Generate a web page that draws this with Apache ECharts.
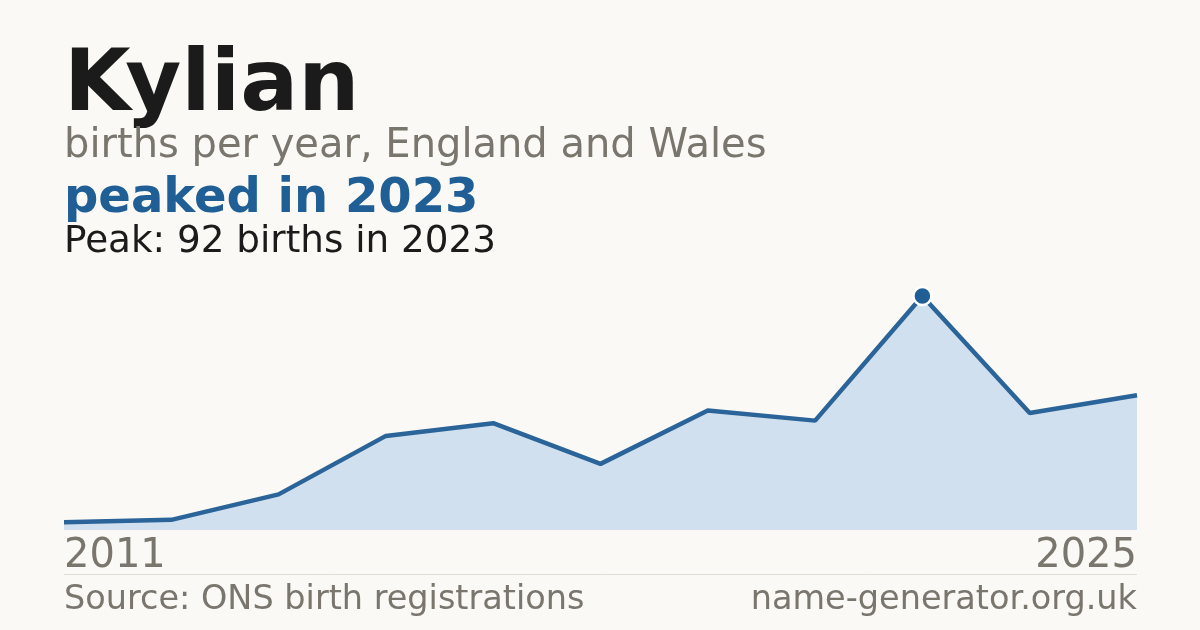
<!DOCTYPE html>
<html>
<head>
<meta charset="utf-8">
<title>Kylian</title>
<script src="https://cdn.jsdelivr.net/npm/echarts@6/dist/echarts.min.js"></script>
<style>
	html, body { margin: 0; padding: 0; background: #faf9f5; }
	#nameChart { width: 1200px; height: 630px; }
</style>
</head>
<body>
<div id="nameChart"></div>
<script>
// 数据部分
const years = ['2011', '2016', '2017', '2018', '2019', '2020', '2021', '2022', '2023', '2024', '2025'];
const births = [3, 4, 14, 37, 42, 26, 47, 43, 92, 46, 53];
const peakIndex = 8;

const font = 'DejaVu Sans';
const ink = '#1b1b1b';
const grey = '#7a756d';
const blue = '#205f95';

let nameChart = echarts.init(document.getElementById('nameChart'));

// 标题、副标题、来源都用 title 组件
nameChart.setOption({
	backgroundColor: '#faf9f5',
	animation: false,
	title: [
		{ text: 'Kylian', left: 64, top: 45, padding: 0, textStyle: { color: ink, fontSize: 86, fontWeight: 'bold', fontFamily: font } },
		{ text: 'births per year, England and Wales', left: 64, top: 127, padding: 0, textStyle: { color: grey, fontSize: 40, fontWeight: 'normal', fontFamily: font } },
		{ text: 'peaked in ' + years[peakIndex], left: 64, top: 176, padding: 0, textStyle: { color: blue, fontSize: 48, fontWeight: 'bold', fontFamily: font } },
		{ text: 'Peak: ' + births[peakIndex] + ' births in ' + years[peakIndex], left: 64, top: 224, padding: 0, textStyle: { color: ink, fontSize: 37.3, fontWeight: 'normal', fontFamily: font } },
		{ text: 'Source: ONS birth registrations', left: 64, top: 583, padding: 0, textStyle: { color: grey, fontSize: 33.5, fontWeight: 'normal', fontFamily: font } },
		{ text: 'name-generator.org.uk', right: 63, top: 583, padding: 0, textStyle: { color: grey, fontSize: 33.5, fontWeight: 'normal', fontFamily: font } }
	],
	grid: { left: 64, right: 63, top: 296, bottom: 100, containLabel: false },
	xAxis: {
		type: 'category',
		data: years,
		boundaryGap: false,
		axisLine: { show: false },
		axisTick: { show: false },
		axisLabel: {
			interval: function (i) { return i === 0 || i === years.length - 1; },
			alignMinLabel: 'left',
			alignMaxLabel: 'right',
			color: grey,
			fontSize: 40,
			fontFamily: font,
			margin: 7
		}
	},
	yAxis: {
		type: 'value',
		min: 0,
		max: 'dataMax',
		show: false,
		splitLine: { show: false }
	},
	graphic: [
		{ type: 'line', shape: { x1: 64, y1: 574.5, x2: 1137, y2: 574.5 }, style: { stroke: '#e2ded6', lineWidth: 1 } }
	],
	series: [{
		type: 'line',
		data: births,
		symbol: 'none',
		lineStyle: { color: '#2a6499', width: 4.5 },
		areaStyle: { color: '#d0e0ef', opacity: 1 },
		markPoint: {
			symbol: 'circle',
			symbolSize: 18,
			label: { show: false },
			itemStyle: { color: blue, borderColor: '#ffffff', borderWidth: 2.5 },
			data: [{ coord: [peakIndex, births[peakIndex]] }]
		}
	}]
});
</script>
</body>
</html>
